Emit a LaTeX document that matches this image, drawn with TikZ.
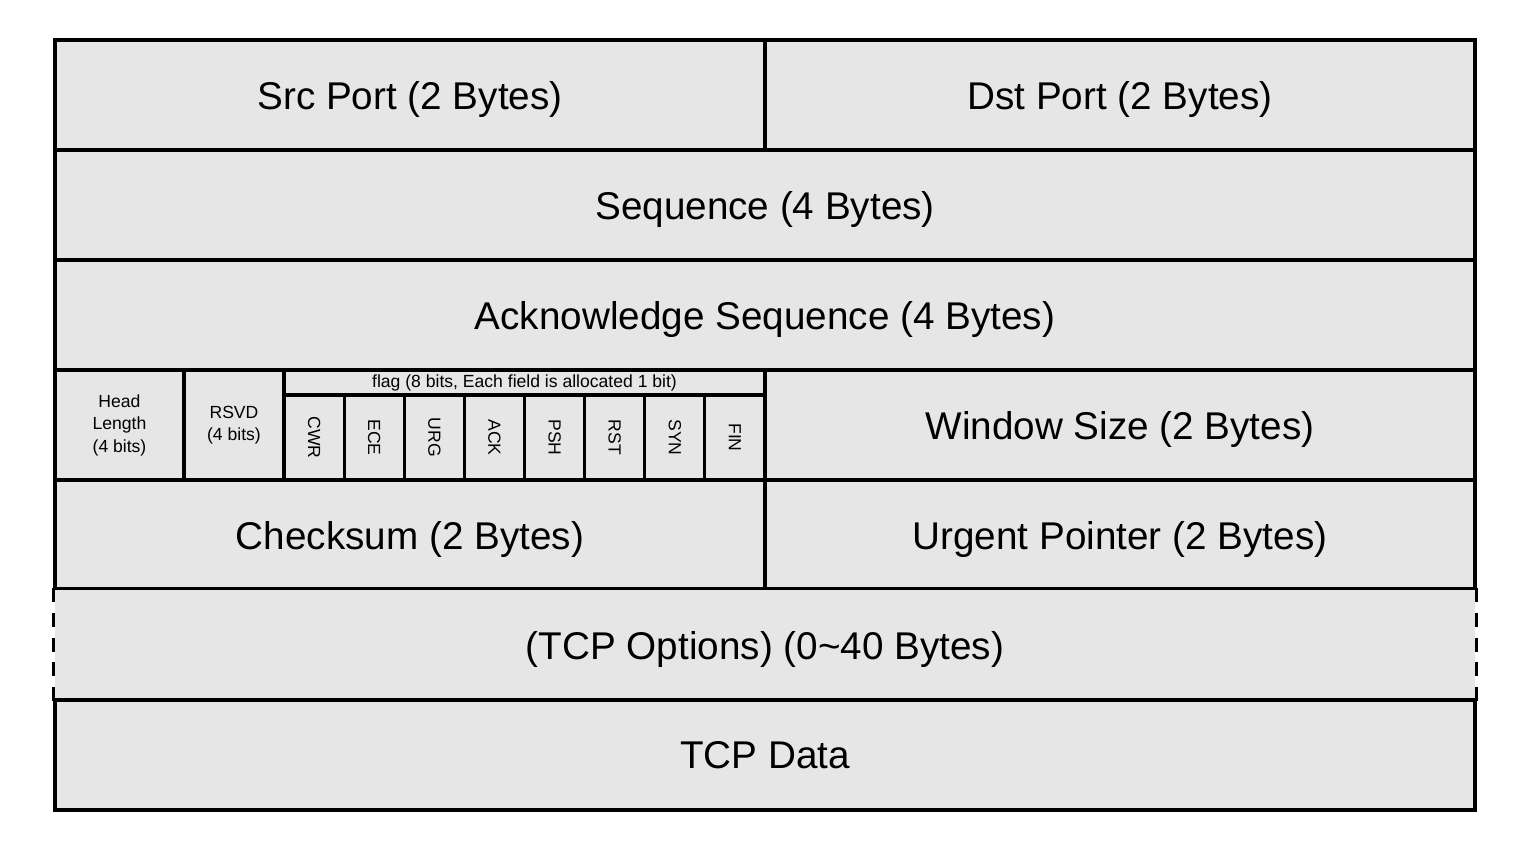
\documentclass[tikz,border=0pt]{standalone}
\usepackage{fontspec}
\setmainfont{Liberation Sans}
\usepackage[dvipsnames]{xcolor}
\definecolor{fieldgray}{HTML}{E6E6E6}

\begin{document}
\begin{tikzpicture}[line width=0.9pt,node distance=1.1cm,
    field/.style={draw,fill=fieldgray,inner sep=0pt,minimum height=1.1cm,text depth=0pt,font=\fontsize{11}{13}\selectfont},
    half/.style={field,minimum width=7.1cm},
    full/.style={field,minimum width=14.2cm},
    small/.style={draw,fill=fieldgray,inner sep=0pt,align=center,font=\fontsize{5}{6.4}\selectfont},
    bit/.style={small,minimum width=0.60125cm,minimum height=0.85cm}]
            \useasboundingbox (0,0) rectangle (15.15,-8.62);

            \node[half] (src) at (4.1,-0.95) {Src Port (2 Bytes)};
            \node[half] (dst) at (11.2,-0.95) {Dst Port (2 Bytes)};

            \node[full] (seq) at (7.65,-2.05) {Sequence (4 Bytes)};
            \node[full] (ack) [below of = seq] {Acknowledge Sequence (4 Bytes)};

            \node[small,minimum width=1.29cm,minimum height=1.1cm] (hlen) at (1.195,-4.25) {Head\\Length\\(4 bits)};
            \node[small,minimum width=1cm,minimum height=1.1cm] (rsvd) at (2.34,-4.25) {RSVD\\(4 bits)};
            \node[small,minimum width=4.81cm,minimum height=0.25cm] (flag) at (5.245,-3.825) {flag (8 bits, Each field is allocated 1 bit)};

            \node[bit] (b1) at (3.140625,-4.375) {\rotatebox{-90}{CWR}};
            \node[bit] (b2) [right of = b1, node distance=0.60125cm] {\rotatebox{-90}{ECE}};
            \node[bit] (b3) [right of = b2, node distance=0.60125cm] {\rotatebox{-90}{URG}};
            \node[bit] (b4) [right of = b3, node distance=0.60125cm] {\rotatebox{-90}{ACK}};
            \node[bit] (b5) [right of = b4, node distance=0.60125cm] {\rotatebox{-90}{PSH}};
            \node[bit] (b6) [right of = b5, node distance=0.60125cm] {\rotatebox{-90}{RST}};
            \node[bit] (b7) [right of = b6, node distance=0.60125cm] {\rotatebox{-90}{SYN}};
            \node[bit] (b8) [right of = b7, node distance=0.60125cm] {\rotatebox{-90}{FIN}};

            \node[half] (win) at (11.2,-4.25) {Window Size (2 Bytes)};

            \node[half] (csum) at (4.1,-5.35) {Checksum (2 Bytes)};
            \node[half] (urg) [below of = win] {Urgent Pointer (2 Bytes)};

            \node[full,draw=none] (opt) at (7.65,-6.45) {(TCP Options) (0\textasciitilde40 Bytes)};
            \node[full] (data) [below of = opt] {TCP Data};

            \draw (opt.north west) -- (opt.north east);
            \draw[dash pattern=on 4pt off 3pt] (opt.north west) -- (opt.south west);
            \draw[dash pattern=on 4pt off 3pt] (opt.north east) -- (opt.south east);
        \end{tikzpicture}
\end{document}
